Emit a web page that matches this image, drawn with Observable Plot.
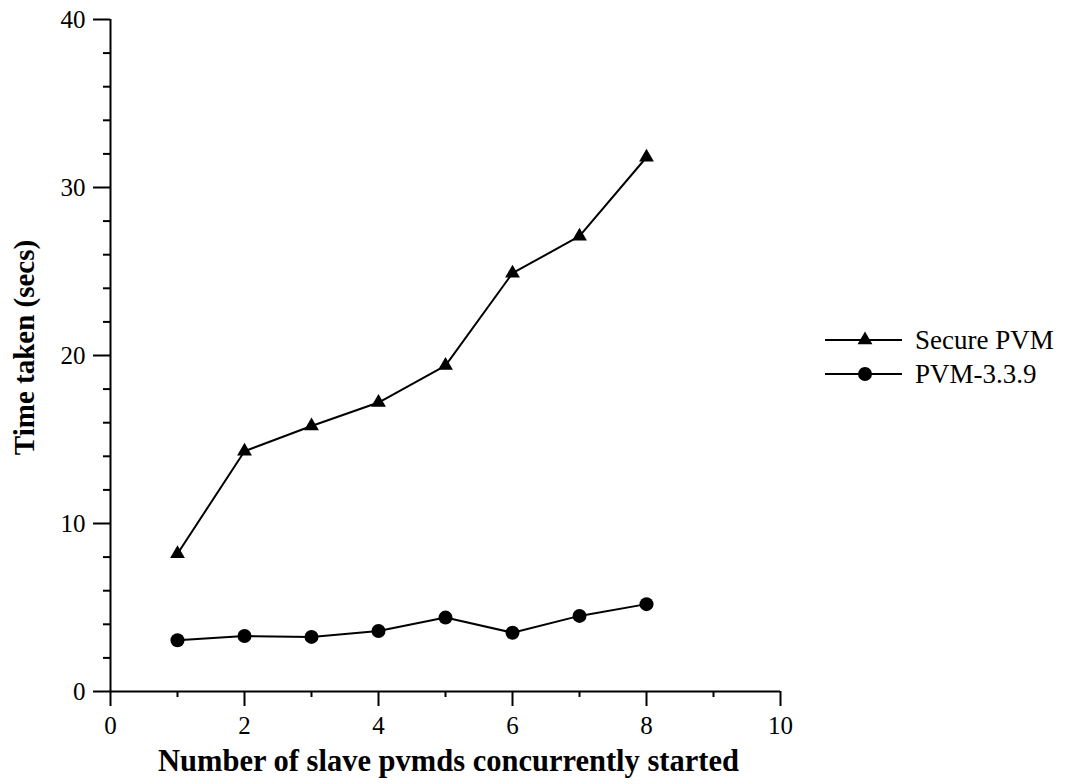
<!DOCTYPE html>
<html><head><meta charset="utf-8">
<script src="https://cdn.jsdelivr.net/npm/d3@7"></script>
<script src="https://cdn.jsdelivr.net/npm/@observablehq/plot@0.6"></script>
<style>
body{margin:0;background:#fff;}
#wrap{position:relative;width:1065px;height:784px;font-family:"Liberation Serif","Times New Roman",serif;}
#legend{position:absolute;left:825px;top:323px;font-size:27px;color:#000;font-family:"Liberation Serif",serif;}
.row{display:flex;align-items:center;height:34px;}
.row span{margin-left:13px;}
svg text{font-family:"Liberation Serif",serif !important;}
</style></head><body><div id="wrap"><div id="legend"></div></div>
<script>
const nodes = [1, 2, 3, 4, 5, 6, 7, 8];
const secureValues = [8.2, 14.3, 15.8, 17.2, 19.4, 24.9, 27.1, 31.8];
const pvmValues = [3.05, 3.3, 3.25, 3.6, 4.4, 3.5, 4.5, 5.2];
const seriesNames = ["Secure PVM", "PVM-3.3.9"];
const xMajorTicks = [0, 2, 4, 6, 8, 10];
const xMinorTicks = [1, 3, 5, 7, 9];
const yMajorTicks = [0, 10, 20, 30, 40];
const yMinorTicks = [2, 4, 6, 8, 12, 14, 16, 18, 22, 24, 26, 28, 32, 34, 36, 38];
const xTitle = "Number of slave pvmds concurrently started";
const yTitle = "Time taken (secs)";

const secure = nodes.map((n, i) => ({x: n, y: secureValues[i]}));
const pvm = nodes.map((n, i) => ({x: n, y: pvmValues[i]}));

const font = "Liberation Serif";
const chart = Plot.plot({
  width: 1065, height: 784,
  marginLeft: 110, marginRight: 285, marginTop: 19, marginBottom: 93,
  x: {domain: [0, 10]},
  y: {domain: [0, 40]},
  style: {fontFamily: font, background: "#fff", color: "#000"},
  marks: [
    Plot.axisY({ticks: yMajorTicks, tickSize: 17, text: null, label: null, strokeWidth: 2}),
    Plot.axisY({ticks: yMinorTicks, tickSize: 7, text: null, label: null, strokeWidth: 2}),
    Plot.axisX({ticks: xMajorTicks, tickSize: 15, text: null, label: null, strokeWidth: 2}),
    Plot.axisX({ticks: xMinorTicks, tickSize: 6, text: null, label: null, strokeWidth: 2}),
    Plot.text(yMajorTicks, {y: d => d, text: d => String(d), frameAnchor: "left", textAnchor: "end", lineAnchor: "middle", dx: -25, fontSize: 25, fill: "black"}),
    Plot.text(xMajorTicks, {x: d => d, text: d => String(d), frameAnchor: "bottom", textAnchor: "middle", lineAnchor: "middle", dy: 34, fontSize: 25, fill: "black"}),
    Plot.ruleX([0], {strokeWidth: 2}),
    Plot.ruleY([0], {strokeWidth: 2}),
    Plot.line(secure, {x: "x", y: "y", strokeWidth: 2}),
    Plot.dot(secure, {x: "x", y: "y", symbol: "triangle", r: 5.5, fill: "black", stroke: "none"}),
    Plot.line(pvm, {x: "x", y: "y", strokeWidth: 2}),
    Plot.dot(pvm, {x: "x", y: "y", symbol: "circle", r: 7, fill: "black", stroke: "none"}),
    Plot.text([xTitle], {frameAnchor: "bottom", textAnchor: "middle", lineAnchor: "middle", dx: 3, dy: 70, fontSize: 30.5, fontWeight: "bold", fill: "black"}),
    Plot.text([yTitle], {frameAnchor: "left", textAnchor: "middle", lineAnchor: "middle", dx: -86, dy: -8, rotate: -90, fontSize: 29, fontWeight: "bold", fill: "black"})
  ]
});
document.getElementById("wrap").prepend(chart);

const legend = d3.select("#legend");
seriesNames.forEach((name, i) => {
  const row = legend.append("div").attr("class", "row");
  const svg = row.append("svg").attr("width", 77).attr("height", 20);
  svg.append("line").attr("x1", 0).attr("x2", 77).attr("y1", 10).attr("y2", 10).attr("stroke", "black").attr("stroke-width", 2);
  const sym = i === 0 ? d3.symbol(d3.symbolTriangle, 5.5 * 5.5 * Math.PI) : d3.symbol(d3.symbolCircle, 7 * 7 * Math.PI);
  svg.append("path").attr("d", sym()).attr("transform", "translate(40,10)").attr("fill", "black");
  row.append("span").text(name);
});
</script>
</body></html>
